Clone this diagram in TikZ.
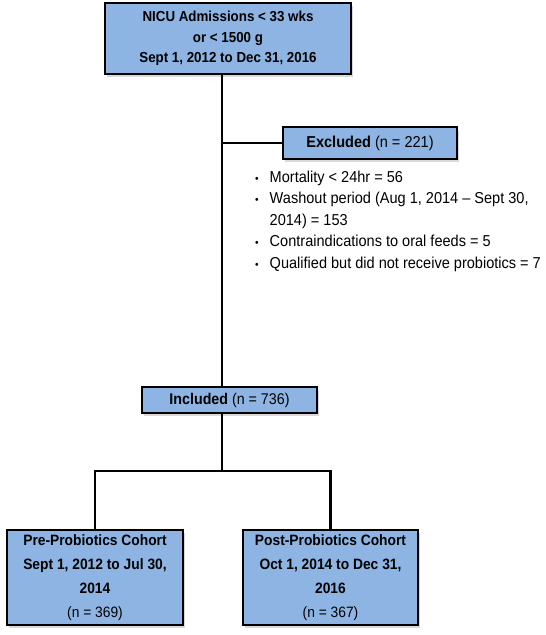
\documentclass[tikz,border=0pt]{standalone}
\usepackage{fontspec}
\setmainfont{Liberation Sans}[FakeStretch=0.92]
\usepackage{xcolor}
\usetikzlibrary{positioning,shadows,calc}
\definecolor{boxblue}{RGB}{141,180,226}
\newcommand{\dotitem}{{\fontsize{11}{11}\selectfont\textbullet}}

\begin{document}
\begin{tikzpicture}[x=1pt, y=-1pt,
        box/.style={rectangle, draw=black, line width=1.8pt, fill=boxblue,
                    drop shadow={shadow xshift=2pt, shadow yshift=-2.5pt, opacity=0.3},
                    align=center, inner sep=0pt},
        link/.style={black, line width=2.6pt}
      ]
        \useasboundingbox (0,0) rectangle (546,635);
        % boxes
        \node[box, minimum width=246pt, minimum height=71pt,
              font=\fontsize{14.5}{20.5}\selectfont\bfseries]
              at (228,38.5) (adm) {NICU Admissions < 33 wks\\ or < 1500 g\\ Sept 1, 2012 to Dec 31, 2016};
        \node[box, minimum width=174pt, minimum height=32pt,
              font=\fontsize{15.8}{18}\selectfont]
              at (370,143) (excl) {\textbf{Excluded} (n = 221)};
        \node[anchor=west, inner sep=0pt, font=\fontsize{15.8}{21.5}\selectfont]
              at (255,221) (why) {\begin{tabular}{@{}l@{\hspace{11pt}}l@{}}
                \dotitem & Mortality < 24hr = 56\\
                \dotitem & Washout period (Aug 1, 2014 -- Sept 30,\\
                         & 2014) = 153\\
                \dotitem & Contraindications to oral feeds = 5\\
                \dotitem & Qualified but did not receive probiotics = 7
              \end{tabular}};
        \node[box, minimum width=175pt, minimum height=26pt,
              font=\fontsize{15.5}{18}\selectfont]
              at (229.5,400) (incl) {\textbf{Included} (n = 736)};
        \node[box, minimum width=176pt, minimum height=95pt,
              font=\fontsize{15}{24}\selectfont]
              at (95,577.5) (pre) {\textbf{Pre-Probiotics Cohort}\\ \textbf{Sept 1, 2012 to Jul 30,}\\ \textbf{2014}\\ (n = 369)};
        \node[box, minimum width=175pt, minimum height=95pt,
              font=\fontsize{15}{24}\selectfont]
              at (330.5,577.5) (post) {\textbf{Post-Probiotics Cohort}\\ \textbf{Oct 1, 2014 to Dec 31,}\\ \textbf{2016}\\ (n = 367)};
        % connectors
        \coordinate (tk) at (222,0);
        \coordinate (split) at (222,471);
        \draw[link] (adm.south -| tk) -- (incl.north -| tk);
        \draw[link] (excl.west) -- (excl.west -| tk);
        \draw[link] (incl.south -| tk) -- (split);
        \draw[link] (pre.north) |- (split) -| (post.north);
      \end{tikzpicture}
\end{document}
